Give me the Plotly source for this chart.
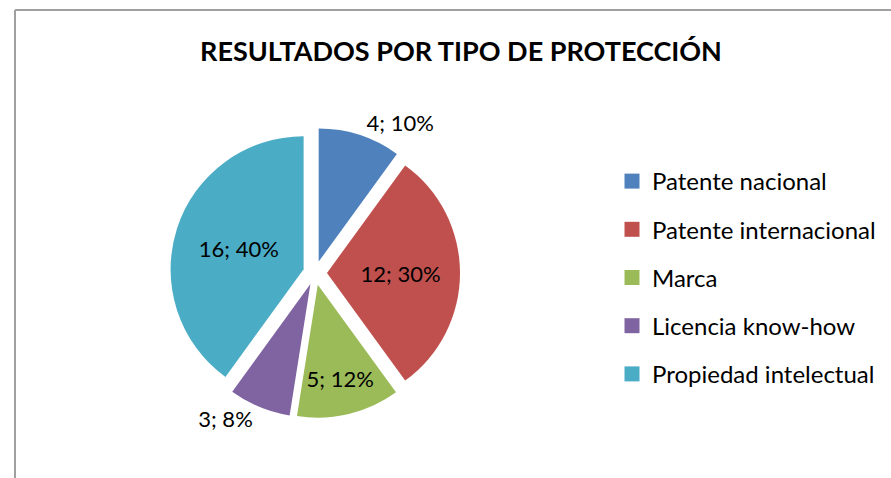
import plotly.graph_objects as go

categories = ["Patente nacional", "Patente internacional", "Marca", "Licencia know-how", "Propiedad intelectual"]
values = [4, 12, 5, 3, 16]
pct_labels = ["10%", "30%", "12%", "8%", "40%"]
colors = ["#4F81BD", "#C0504D", "#9BBB59", "#8064A2", "#4BACC6"]
text_pos = ["outside", "inside", "inside", "outside", "inside"]

W, H = 891, 478
FONT = "Lato"

fig = go.Figure()
fig.add_trace(go.Pie(
    labels=categories, values=values, customdata=pct_labels,
    texttemplate="%{value}; %{customdata}", textposition=text_pos,
    textfont=dict(family=FONT, size=22, color="black"),
    insidetextfont=dict(family=FONT, size=22, color="black"),
    outsidetextfont=dict(family=FONT, size=22, color="black"),
    marker=dict(colors=colors, line=dict(color="white", width=0)),
    pull=[0.09] * 5, sort=False, direction="clockwise", rotation=0,
    showlegend=False, insidetextorientation="horizontal",
    domain=dict(x=[165 / W, 465 / W], y=[1 - 418 / H, 1 - 128 / H]),
))
for i, (c, col) in enumerate(zip(categories, colors)):
    fig.add_trace(go.Scatter(
        x=[None], y=[None], mode="markers", name=c, legendgroup=f"g{i}",
        marker=dict(symbol="square", size=15, color=col),
    ))

fig.update_layout(
    width=W, height=H, margin=dict(l=0, r=0, t=0, b=0),
    paper_bgcolor="white", plot_bgcolor="white",
    xaxis=dict(visible=False), yaxis=dict(visible=False),
    title=dict(text="<b>RESULTADOS POR TIPO DE PROTECCIÓN</b>",
               x=461 / W, xanchor="center", y=1 - 52 / H, yanchor="middle",
               font=dict(family=FONT, size=27, color="black")),
    legend=dict(x=612 / W, xanchor="left", y=1 - 159 / H, yanchor="top",
                font=dict(family=FONT, size=24, color="black"),
                traceorder="grouped", tracegroupgap=14,
                bgcolor="rgba(0,0,0,0)"),
    shapes=[
        dict(type="line", xref="paper", yref="paper", x0=15 / W, x1=15 / W,
             y0=-0.1, y1=1 - 10 / H, line=dict(color="#A0A0A0", width=2)),
        dict(type="line", xref="paper", yref="paper", x0=15 / W, x1=1.1,
             y0=1 - 10 / H, y1=1 - 10 / H, line=dict(color="#A0A0A0", width=2)),
    ],
)
fig.write_html("out.html")
